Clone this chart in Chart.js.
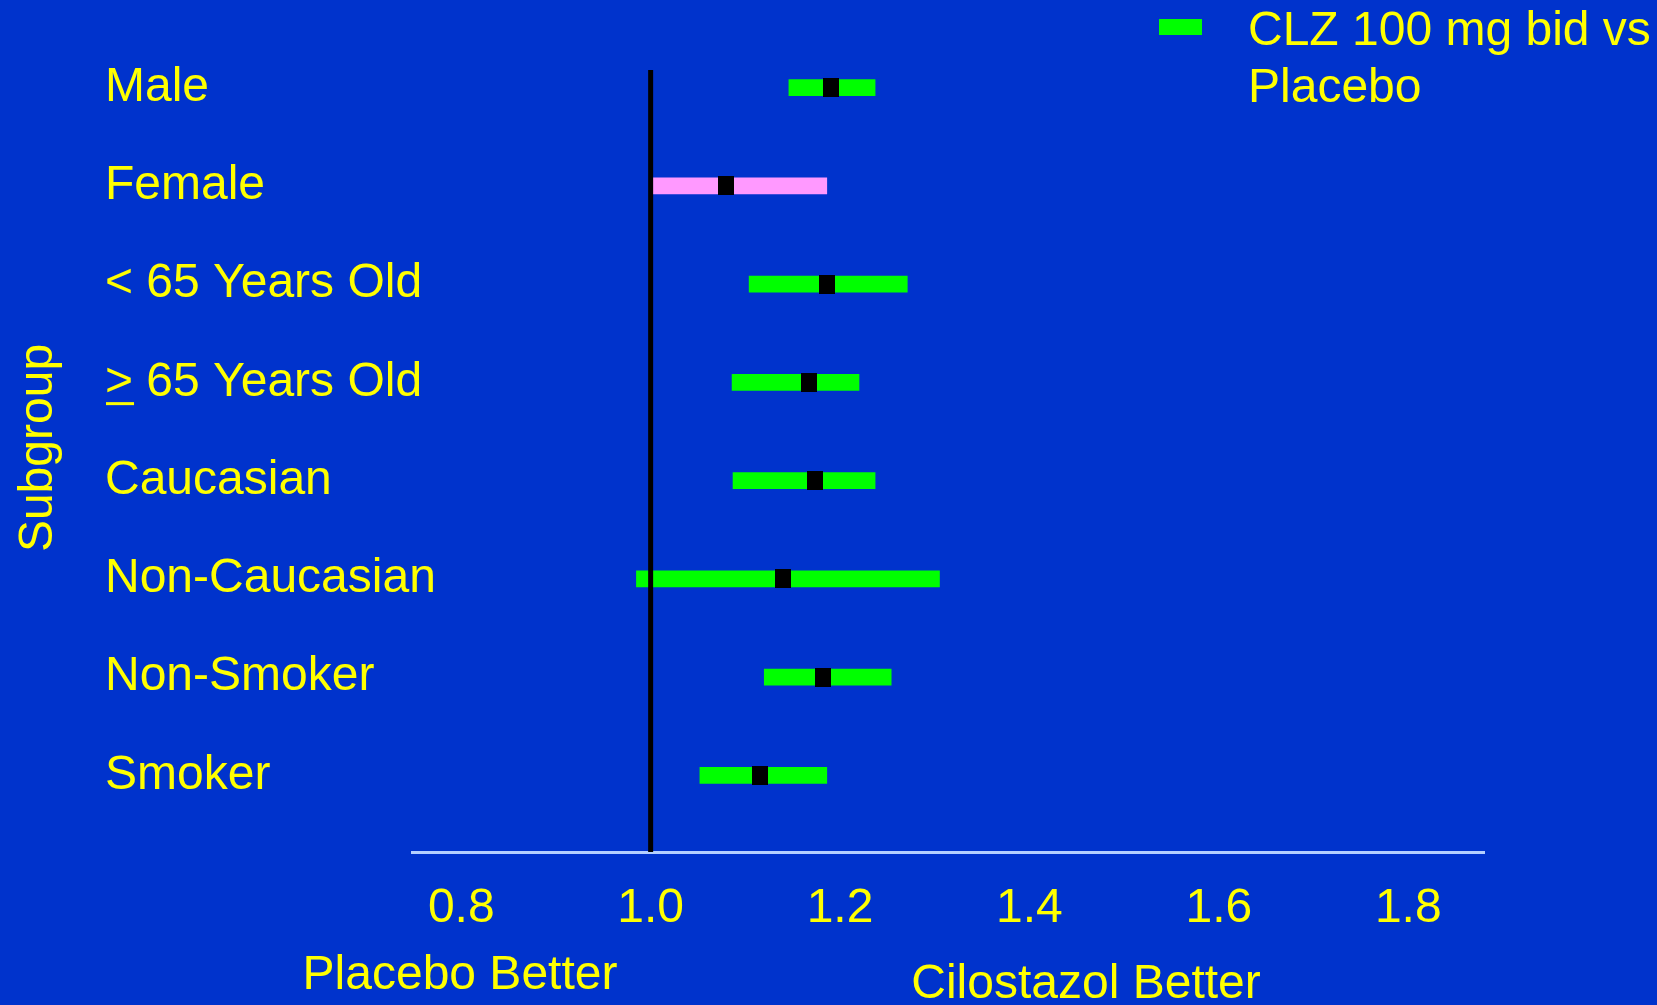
<!DOCTYPE html>
<html>
<head>
<meta charset="utf-8">
<title>Subgroup analysis: CLZ 100 mg bid vs Placebo</title>
<script src="https://cdn.jsdelivr.net/npm/chart.js@4.4.1/dist/chart.umd.min.js"></script>
<style>
  html, body { margin: 0; padding: 0; background: #0033cc; }
  #wrap { width: 1657px; height: 1005px; position: relative; }
</style>
</head>
<body>
<div id="wrap"><canvas id="forest"></canvas></div>
<script>
// Subgroups, top to bottom
const subgroups = ['Male', 'Female', '< 65 Years Old', '> 65 Years Old', 'Caucasian', 'Non-Caucasian', 'Non-Smoker', 'Smoker'];
// Point estimate and confidence interval (ratio vs placebo)
const ratio  = [1.190, 1.080, 1.186, 1.167, 1.174, 1.140, 1.182, 1.115];
const ciLow  = [1.146, 1.000, 1.104, 1.086, 1.087, 0.985, 1.120, 1.052];
const ciHigh = [1.237, 1.186, 1.271, 1.220, 1.237, 1.305, 1.254, 1.186];
// Axis tick values
const xTicks = [0.8, 1.0, 1.2, 1.4, 1.6, 1.8];
// Reference value (no difference)
const nullValue = 1.0;
// Legend text lines and direction annotations
const seriesLabel = ['CLZ 100 mg bid vs', 'Placebo'];
const leftNote = 'Placebo Better';
const rightNote = 'Cilostazol Better';
const yTitle = 'Subgroup';
const highlighted = 'Female';

const FONT = "'Liberation Sans', Arial, Helvetica, sans-serif";
const YELLOW = '#ffff00';
const GREEN = '#00ff00';
const PINK = '#ff99ff';
const BG = '#0033cc';

const X_MIN = 0.748, X_MAX = 1.88;
const Y_MIN = -0.18, Y_MAX = 7.78;

// Black marker for the point estimate
const marker = document.createElement('canvas');
marker.width = 16; marker.height = 19;
(function () {
  const m = marker.getContext('2d');
  m.fillStyle = '#000000';
  m.fillRect(0, 0, 16, 19);
})();

const decorations = {
  id: 'decorations',
  beforeDraw(chart) {
    const ctx = chart.ctx;
    ctx.save();
    ctx.fillStyle = BG;
    ctx.fillRect(0, 0, chart.width, chart.height);
    ctx.restore();
  },
  afterDraw(chart) {
    const ctx = chart.ctx;
    const yS = chart.scales.y;
    ctx.save();
    ctx.fillStyle = YELLOW;
    ctx.font = '48px ' + FONT;

    // legend: swatch plus two-line label
    ctx.fillStyle = GREEN;
    ctx.fillRect(1159, 19, 43, 16);
    ctx.fillStyle = YELLOW;
    ctx.textAlign = 'left';
    ctx.textBaseline = 'alphabetic';
    ctx.fillText(seriesLabel[0], 1248, 45);
    ctx.fillText(seriesLabel[1], 1248, 102);

    // direction notes under the axis
    ctx.textAlign = 'center';
    ctx.fillText(leftNote, 460, 989);
    ctx.fillText(rightNote, 1086, 998);

    // underline the ">" so it reads as "greater or equal"
    const idx = subgroups.indexOf('> 65 Years Old');
    if (idx >= 0) {
      ctx.textBaseline = 'middle';
      const m = ctx.measureText('6');
      const base = yS.getPixelForValue(idx) + m.actualBoundingBoxDescent;
      const w = ctx.measureText('>').width;
      ctx.fillRect(yS.left + 1, base + 6.5, w, 3);
    }

    // vertical axis title
    ctx.translate(52, 448);
    ctx.rotate(-Math.PI / 2);
    ctx.textAlign = 'center';
    ctx.textBaseline = 'alphabetic';
    ctx.fillText(yTitle, 0, 0);
    ctx.restore();
  }
};

new Chart(document.getElementById('forest'), {
  type: 'bar',
  data: {
    datasets: [
      {
        type: 'line',
        label: 'reference',
        data: [{ x: nullValue, y: Y_MIN }, { x: nullValue, y: Y_MAX }],
        borderColor: '#000000',
        borderWidth: 5,
        borderCapStyle: 'butt',
        pointRadius: 0,
        fill: false,
        order: 0
      },
      {
        type: 'scatter',
        label: 'estimate',
        data: ratio.map((v, i) => ({ x: v, y: i })),
        pointStyle: marker,
        pointRadius: 10,
        order: 1
      },
      {
        type: 'bar',
        label: seriesLabel.join(' '),
        indexAxis: 'y',
        data: ciLow.map((lo, i) => ({ x: [lo, ciHigh[i]], y: i })),
        backgroundColor: (c) => subgroups[c.dataIndex] === highlighted ? PINK : GREEN,
        borderWidth: 0,
        barThickness: 16,
        order: 2
      }
    ]
  },
  options: {
    responsive: true,
    maintainAspectRatio: false,
    animation: false,
    events: [],
    layout: { padding: { left: 105, right: 173, top: 70, bottom: 0 } },
    plugins: {
      legend: { display: false },
      tooltip: { enabled: false },
      title: { display: false }
    },
    scales: {
      x: {
        type: 'linear',
        position: 'bottom',
        offset: false,
        min: X_MIN,
        max: X_MAX,
        grid: { display: false, drawTicks: false, offset: false },
        border: { display: true, color: '#b4d0ff', width: 3 },
        afterBuildTicks: (s) => { s.ticks = xTicks.map(v => ({ value: v })); },
        afterFit: (s) => { s.height = 153; },
        ticks: {
          color: YELLOW,
          font: { family: FONT, size: 48 },
          padding: 28,
          autoSkip: false,
          minRotation: 0,
          maxRotation: 0,
          callback: (v) => Number(v).toFixed(1)
        }
      },
      y: {
        type: 'linear',
        position: 'left',
        reverse: true,
        offset: false,
        beginAtZero: false,
        min: Y_MIN,
        max: Y_MAX,
        grid: { display: false, drawTicks: false, offset: false },
        border: { display: false },
        afterBuildTicks: (s) => { s.ticks = subgroups.map((_, i) => ({ value: i })); },
        afterFit: (s) => {
          s.width = 307;
          // long subgroup names run past the axis box into the plot area
          s._computeLabelArea = () => undefined;
        },
        ticks: {
          color: YELLOW,
          font: { family: FONT, size: 48 },
          padding: 0,
          crossAlign: 'far',
          autoSkip: false,
          callback: (v) => subgroups[v]
        }
      }
    }
  },
  plugins: [decorations]
});
</script>
</body>
</html>
